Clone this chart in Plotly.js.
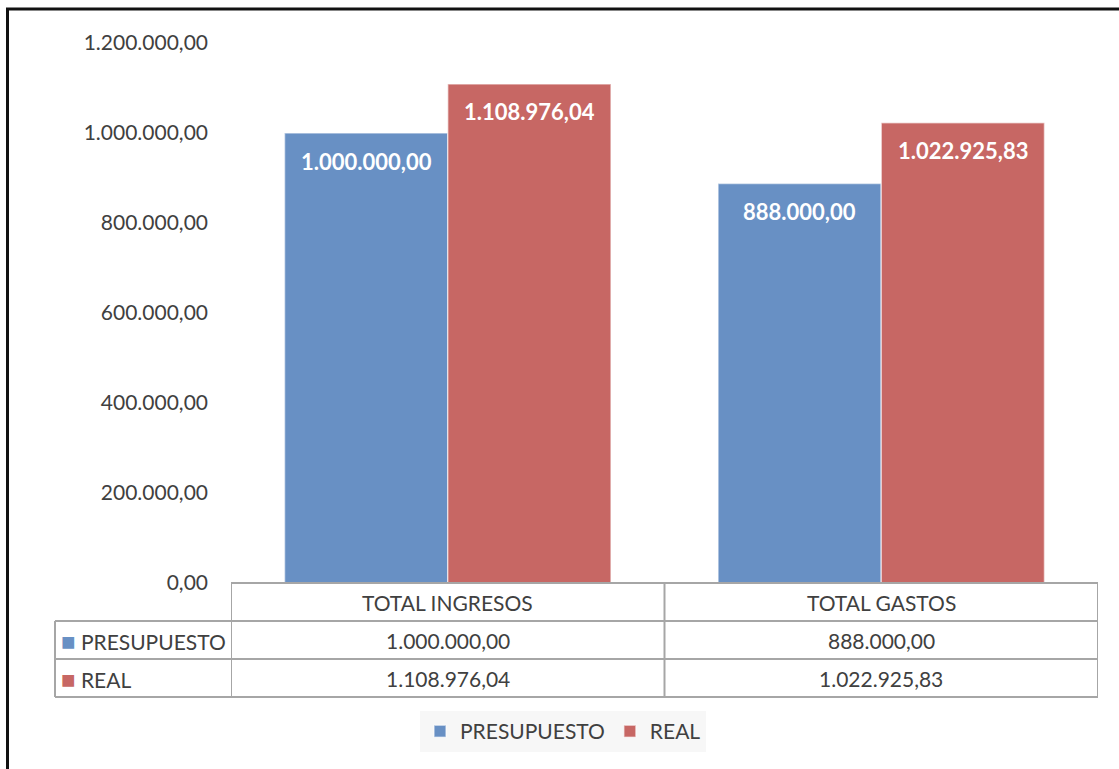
<!DOCTYPE html>
<html>
<head>
<meta charset="utf-8">
<script src="https://cdn.plot.ly/plotly-3.0.1.min.js"></script>
<style>
  html, body { margin: 0; padding: 0; background: #fff; }
  #chart { width: 1119px; height: 769px; }
</style>
</head>
<body>
<div id="chart"></div>
<script>
// Data
const categories = ['TOTAL INGRESOS', 'TOTAL GASTOS'];
const seriesNames = ['PRESUPUESTO', 'REAL'];
const presupuesto = [1000000.00, 888000.00];
const real = [1108976.04, 1022925.83];
const yTicks = [0, 200000, 400000, 600000, 800000, 1000000, 1200000];

// Styles
const blue = '#6890c4';
const red = '#c76764';
const textColor = '#404040';
const gridGray = '#a6a6a6';
const fontFamily = 'Lato, "Open Sans", sans-serif';
const fontSize = 21;

// Plot area in pixels (used to place the data table under the axis)
const W = 1119, H = 769;
const plotL = 231, plotR = 1098, plotT = 43, plotB = 583;
const px = p => (p - plotL) / (plotR - plotL);
const py = p => (plotB - p) / (plotB - plotT);

// Spanish number format: 1.108.976,04
function fmt(v) {
    const parts = v.toFixed(2).split('.');
    parts[0] = parts[0].replace(/\B(?=(\d{3})+(?!\d))/g, '.');
    return parts[0] + ',' + parts[1];
}

const traces = [
    {
        type: 'bar', name: seriesNames[0], x: categories, y: presupuesto,
        marker: { color: blue, line: { color: 'rgba(255,255,255,0.55)', width: 1.5 } },
        hoverinfo: 'none'
    },
    {
        type: 'bar', name: seriesNames[1], x: categories, y: real,
        marker: { color: red, line: { color: 'rgba(255,255,255,0.55)', width: 1.5 } },
        hoverinfo: 'none'
    }
];

// Bar labels (white, bold, near the top inside each bar)
const bargap = 0.247;
const barOffset = (1 - bargap) / 4;
const annotations = [];
[presupuesto, real].forEach((vals, s) => {
    vals.forEach((v, i) => {
        annotations.push({
            x: i + (s === 0 ? -barOffset : barOffset), xref: 'x',
            y: v, yref: 'y', yshift: -28,
            text: fmt(v), showarrow: false,
            xanchor: 'center', yanchor: 'middle',
            font: { family: fontFamily, size: 22, color: '#ffffff', weight: 'bold' }
        });
    });
});

// Data table: header row, then one row per series
const rowTops = [583, 621, 659, 697];
categories.forEach((c, i) => {
    annotations.push({
        x: i, xref: 'x', y: py((rowTops[0] + rowTops[1]) / 2), yref: 'paper',
        text: c, showarrow: false, xanchor: 'center', yanchor: 'middle',
        font: { family: fontFamily, size: fontSize, color: textColor }
    });
});
[presupuesto, real].forEach((vals, s) => {
    const yMid = py((rowTops[s + 1] + rowTops[s + 2]) / 2);
    const col = s === 0 ? blue : red;
    annotations.push({
        x: px(59), xref: 'paper', y: yMid, yref: 'paper',
        text: `<span style="color:${col};font-size:24px">■</span> ${seriesNames[s]}`,
        showarrow: false, xanchor: 'left', yanchor: 'middle',
        font: { family: fontFamily, size: fontSize, color: textColor }
    });
    vals.forEach((v, i) => {
        annotations.push({
            x: i, xref: 'x', y: yMid, yref: 'paper',
            text: fmt(v), showarrow: false, xanchor: 'center', yanchor: 'middle',
            font: { family: fontFamily, size: fontSize, color: textColor }
        });
    });
});

const tableLine = { color: gridGray, width: 2 };
const shapes = [
    // horizontal lines
    { type: 'line', xref: 'x', yref: 'paper', x0: -0.5, x1: 1.5, y0: py(rowTops[0]), y1: py(rowTops[0]), line: tableLine },
    { type: 'line', xref: 'paper', yref: 'paper', x0: px(55), x1: 1, y0: py(rowTops[1]), y1: py(rowTops[1]), line: tableLine },
    { type: 'line', xref: 'paper', yref: 'paper', x0: px(55), x1: 1, y0: py(rowTops[2]), y1: py(rowTops[2]), line: tableLine },
    { type: 'line', xref: 'paper', yref: 'paper', x0: px(55), x1: 1, y0: py(rowTops[3]), y1: py(rowTops[3]), line: tableLine },
    // vertical lines
    { type: 'line', xref: 'paper', yref: 'paper', x0: px(55), x1: px(55), y0: py(rowTops[1]), y1: py(rowTops[3]), line: tableLine },
    { type: 'line', xref: 'x', yref: 'paper', x0: -0.5, x1: -0.5, y0: py(rowTops[0]), y1: py(rowTops[3]), line: tableLine },
    { type: 'line', xref: 'x', yref: 'paper', x0: 0.5, x1: 0.5, y0: py(rowTops[0]), y1: py(rowTops[3]), line: tableLine },
    { type: 'line', xref: 'x', yref: 'paper', x0: 1.5, x1: 1.5, y0: py(rowTops[0]), y1: py(rowTops[3]), line: tableLine },
    // outer frame (top and left)
    { type: 'line', xref: 'paper', yref: 'paper', x0: px(6), x1: px(W + 5), y0: py(9), y1: py(9), line: { color: '#111', width: 3 } },
    { type: 'line', xref: 'paper', yref: 'paper', x0: px(7.5), x1: px(7.5), y0: py(8), y1: py(H + 5), line: { color: '#111', width: 3 } }
];

const layout = {
    width: W, height: H,
    margin: { l: plotL, r: W - plotR, t: plotT, b: H - plotB, pad: 0 },
    paper_bgcolor: '#ffffff', plot_bgcolor: '#ffffff',
    separators: ',.',
    barmode: 'group', bargap: bargap, bargroupgap: 0,
    font: { family: fontFamily, size: fontSize, color: textColor },
    showlegend: true,
    legend: {
        orientation: 'h', x: px(563), xanchor: 'center', y: py(711), yanchor: 'top',
        bgcolor: '#f7f7f7', font: { family: fontFamily, size: fontSize, color: textColor },
        itemclick: false, itemdoubleclick: false
    },
    xaxis: {
        type: 'category', range: [-0.5, 1.5], showticklabels: false,
        showgrid: false, zeroline: false, showline: false, ticks: ''
    },
    yaxis: {
        range: [0, 1200000], tickvals: yTicks, tickformat: ',.2f',
        showgrid: false, zeroline: false, showline: false, ticks: '',
        ticklabelstandoff: 22,
        tickfont: { family: fontFamily, size: fontSize, color: textColor }
    },
    annotations: annotations,
    shapes: shapes
};

Plotly.newPlot('chart', traces, layout, { displayModeBar: false, staticPlot: true });
</script>
</body>
</html>
